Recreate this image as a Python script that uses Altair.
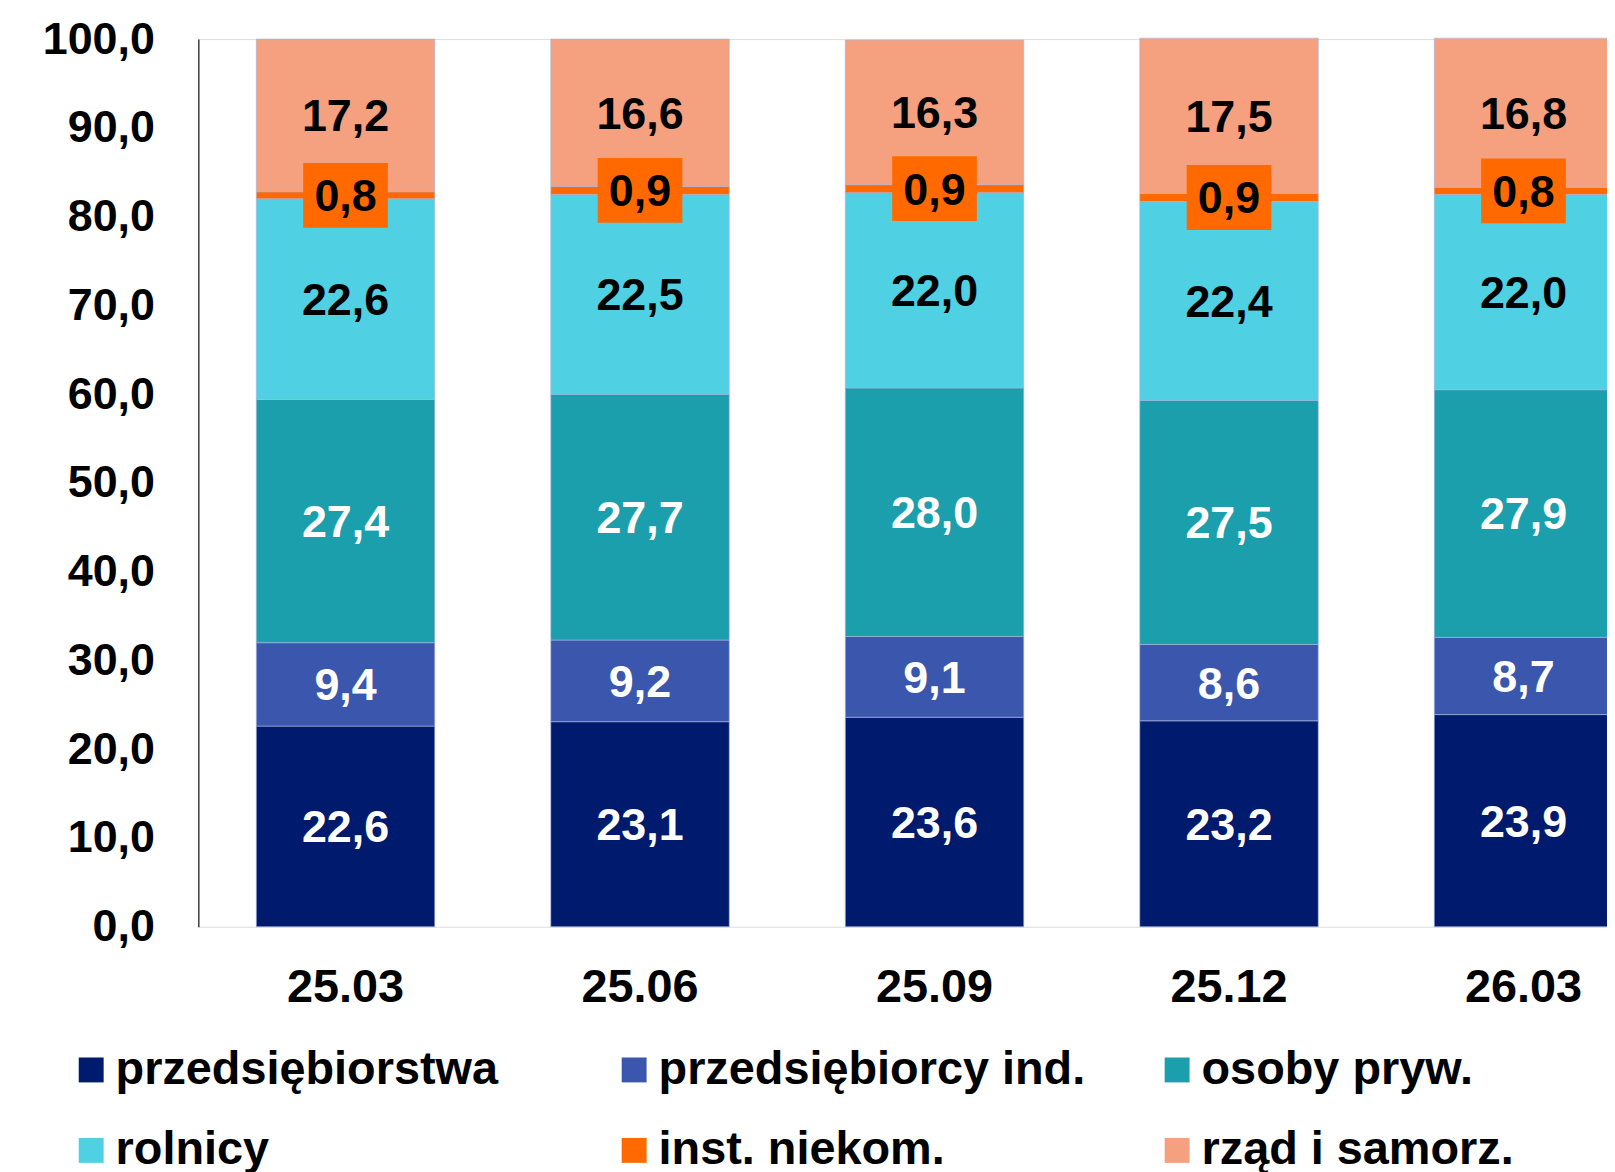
import altair as alt
import pandas as pd

dates = ["25.03", "25.06", "25.09", "25.12", "26.03"]
categories = ["przedsiębiorstwa", "przedsiębiorcy ind.", "osoby pryw.",
              "rolnicy", "inst. niekom.", "rząd i samorz."]
colors = ["#001A6E", "#3A57AD", "#1B9FAD", "#4FD1E3", "#FF6900", "#F5A07F"]

przedsiebiorstwa = [22.6, 23.1, 23.6, 23.2, 23.9]
przedsiebiorcy = [9.4, 9.2, 9.1, 8.6, 8.7]
osoby = [27.4, 27.7, 28.0, 27.5, 27.9]
rolnicy = [22.6, 22.5, 22.0, 22.4, 22.0]
niekom = [0.8, 0.9, 0.9, 0.9, 0.8]
rzad = [17.2, 16.6, 16.3, 17.5, 16.8]

series = [przedsiebiorstwa, przedsiebiorcy, osoby, rolnicy, niekom, rzad]
rows = []
for ci, (cat, vals) in enumerate(zip(categories, series)):
    for d, v in zip(dates, vals):
        rows.append({"date": d, "cat": cat, "idx": ci, "value": v})
df = pd.DataFrame(rows)

FONT = "Liberation Sans"

base = alt.Chart(df).transform_stack(
    stack="value", groupby=["date"], sort=[alt.SortField("idx", order="ascending")],
    as_=["y0", "y1"]
).transform_calculate(
    mid="(datum.y0 + datum.y1) / 2",
    label="replace(format(datum.value, '.1f'), '.', ',')"
)

x_enc = alt.X("date:N", sort=dates,
              scale=alt.Scale(range=[0, 1478], paddingInner=0.394, paddingOuter=0.197),
              axis=alt.Axis(title=None, labelAngle=0, labelFontSize=47, labelFont=FONT,
                            labelFontWeight="bold", labelColor="black", domain=False,
                            ticks=False, labelPadding=38))

y_scale = alt.Scale(domain=[0, 100], nice=False)

bars = base.mark_bar(stroke="#a8b4e0", strokeWidth=0.8, strokeOpacity=0.8).encode(
    x=x_enc,
    y=alt.Y("y0:Q", scale=y_scale,
            axis=alt.Axis(title=None, values=list(range(0, 101, 10)),
                          labelExpr="replace(format(datum.value, '.1f'), '.', ',')",
                          labelFontSize=45, labelFont=FONT, labelFontWeight="bold",
                          labelColor="black", ticks=False, grid=False,
                          domainColor="#404040", domainWidth=1.5, labelPadding=44)),
    y2="y1:Q",
    color=alt.Color("cat:N", sort=categories,
                    scale=alt.Scale(domain=categories, range=colors),
                    legend=alt.Legend(title=None, orient="none", legendX=-131, legendY=1011,
                                      direction="horizontal",
                                      columns=3, gridAlign="all", columnPadding=68,
                                      rowPadding=33, symbolType="square", symbolSize=625,
                                      symbolStrokeWidth=0, labelFontSize=47, labelFont=FONT,
                                      labelFontWeight="bold", labelColor="black",
                                      labelOffset=1, labelLimit=800, padding=0)),
    order=alt.Order("idx:Q"),
)

box = base.transform_filter("datum.idx == 4").mark_point(
    shape="M-1,-0.765L1,-0.765L1,0.765L-1,0.765Z", filled=True, opacity=1,
    color="#FF6900", size=7225, strokeWidth=0
).encode(x=alt.X("date:N", sort=dates), y=alt.Y("mid:Q", scale=y_scale))

text_white = base.transform_filter("datum.idx < 3").mark_text(
    font=FONT, fontSize=45, fontWeight="bold", color="white", baseline="middle", dy=2
).encode(x=alt.X("date:N", sort=dates), y=alt.Y("mid:Q", scale=y_scale), text="label:N")

text_black = base.transform_filter("datum.idx >= 3").mark_text(
    font=FONT, fontSize=45, fontWeight="bold", color="black", baseline="middle", dy=2
).encode(x=alt.X("date:N", sort=dates), y=alt.Y("mid:Q", scale=y_scale), text="label:N")

chart = alt.layer(bars, box, text_white, text_black).properties(
    width=1414, height=891,
    autosize=alt.AutoSizeParams(type="none"),
    padding={"left": 191, "top": 29, "right": 0, "bottom": 244},
).configure_view(strokeWidth=0).configure(background="white")

chart.save("out.html", embed_options={"renderer": "svg", "actions": False})
